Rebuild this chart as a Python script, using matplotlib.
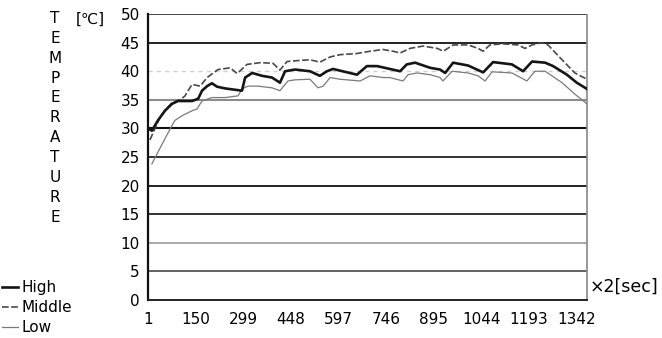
import matplotlib
matplotlib.use("Agg")
import matplotlib.pyplot as plt

plt.rcParams["font.family"] = ["DejaVu Sans"]

# sample index (x2 sec) and temperature readings for each channel
high_x = [7, 13, 32, 54, 76, 95, 139, 158, 170, 186, 201, 217, 242, 295, 305,
          327, 358, 389, 414, 430, 461, 508, 539, 561, 580, 655, 686, 718, 790,
          811, 837, 884, 915, 931, 956, 1003, 1050, 1081, 1140, 1175, 1203,
          1244, 1269, 1312, 1343, 1375]
high_t = [29.8, 29.6, 31.4, 33.1, 34.3, 34.8, 34.8, 35.2, 36.6, 37.4, 37.9,
          37.3, 37.0, 36.6, 38.9, 39.7, 39.2, 38.9, 38.0, 40.0, 40.3, 40.0,
          39.2, 40.0, 40.4, 39.4, 40.9, 40.9, 40.0, 41.2, 41.5, 40.6, 40.3,
          39.7, 41.5, 41.0, 39.8, 41.6, 41.2, 40.0, 41.7, 41.5, 40.9, 39.4,
          38.0, 36.9]

middle_x = [7, 23, 39, 54, 76, 101, 117, 123, 139, 164, 186, 220, 258, 280,
            311, 352, 392, 414, 436, 477, 508, 539, 571, 602, 655, 696, 737,
            768, 790, 821, 862, 906, 925, 956, 1003, 1034, 1050, 1071, 1109,
            1159, 1181, 1203, 1234, 1253, 1297, 1337, 1375]
middle_t = [28.0, 30.0, 32.0, 33.1, 34.5, 35.0, 35.7, 36.3, 37.7, 37.4, 38.9,
            40.3, 40.6, 39.6, 41.2, 41.5, 41.4, 40.2, 41.7, 41.9, 42.0, 41.6,
            42.5, 42.9, 43.1, 43.5, 43.8, 43.5, 43.2, 44.0, 44.4, 44.0, 43.5,
            44.6, 44.6, 44.0, 43.5, 44.6, 44.8, 44.6, 44.0, 44.6, 45.0, 44.6,
            42.0, 39.7, 38.6]

low_x = [13, 38, 54, 70, 85, 107, 139, 154, 170, 201, 242, 283, 295, 314,
         345, 389, 414, 439, 461, 508, 533, 549, 571, 602, 665, 696, 737, 758,
         799, 815, 843, 884, 915, 924, 953, 1003, 1034, 1056, 1078, 1140, 1187,
         1212, 1244, 1297, 1337, 1375]
low_t = [23.8, 26.5, 28.2, 29.9, 31.4, 32.2, 33.1, 33.4, 34.8, 35.4, 35.4,
         35.7, 36.9, 37.4, 37.4, 37.1, 36.6, 38.3, 38.5, 38.6, 37.1, 37.4,
         38.9, 38.6, 38.3, 39.2, 38.9, 38.9, 38.3, 39.4, 39.7, 39.4, 38.9,
         38.3, 40.0, 39.7, 39.2, 38.3, 39.9, 39.7, 38.3, 40.0, 40.0, 38.0,
         36.0, 34.3]

x_ticks = [1, 150, 299, 448, 597, 746, 895, 1044, 1193, 1342]
y_ticks = [0, 5, 10, 15, 20, 25, 30, 35, 40, 45, 50]

fig = plt.figure(figsize=(6.62, 3.38), dpi=100)
ax = fig.add_axes([0.2236, 0.1124, 0.6631, 0.846])

ax.plot(high_x, high_t, color="#151515", lw=1.9, label="High", zorder=4)
ax.plot(middle_x, middle_t, color="#4a4a4a", lw=1.2, ls=(0, (4, 1.5)),
        label="Middle", zorder=3)
ax.plot(low_x, low_t, color="#7a7a7a", lw=0.9, label="Low", zorder=3)

ax.set_xlim(1, 1375)
ax.set_ylim(0, 50)
ax.set_xticks(x_ticks)
ax.set_yticks(y_ticks)
ax.tick_params(length=0, labelsize=11)
ax.tick_params(axis="x", pad=8.5)
ax.tick_params(axis="y", pad=6)

# horizontal grid, each level drawn in its own grey
grid_style = {
    5: ("#555555", 1.3, "-"), 10: ("#999999", 1.2, "-"),
    15: ("#333333", 1.4, "-"), 20: ("#222222", 1.4, "-"),
    25: ("#333333", 1.4, "-"), 30: ("#111111", 1.5, "-"),
    35: ("#8c8c8c", 1.5, "-"), 40: ("#d0d0d0", 1.0, (0, (3, 3))),
    45: ("#222222", 1.4, "-"), 50: ("#444444", 1.4, "-"),
}
for level, (c, w, s) in grid_style.items():
    ax.axhline(level, color=c, lw=w, ls=s, zorder=1)

ax.spines["top"].set_visible(False)
ax.spines["left"].set_color("#111111")
ax.spines["left"].set_linewidth(1.6)
ax.spines["bottom"].set_color("#222222")
ax.spines["bottom"].set_linewidth(1.4)
ax.spines["right"].set_color("#888888")
ax.spines["right"].set_linestyle((0, (1, 1)))
ax.spines["right"].set_linewidth(1.2)

fig.text(0.083, 0.968, "\n".join("TEMPERATURE"), ha="center", va="top",
         fontsize=11, linespacing=1.41)
fig.text(0.115, 0.965, "[℃]", ha="left", va="top", fontsize=11)
fig.text(0.89, 0.151, "×2[sec]", ha="left", va="center", fontsize=12.5)

fig.legend(loc="lower left", bbox_to_anchor=(0.0, 0.004), frameon=False,
           fontsize=11, handlelength=1.1, handletextpad=0.2, labelspacing=0.33,
           borderpad=0.1, borderaxespad=0.0)

fig.savefig("out.png", dpi=100)
